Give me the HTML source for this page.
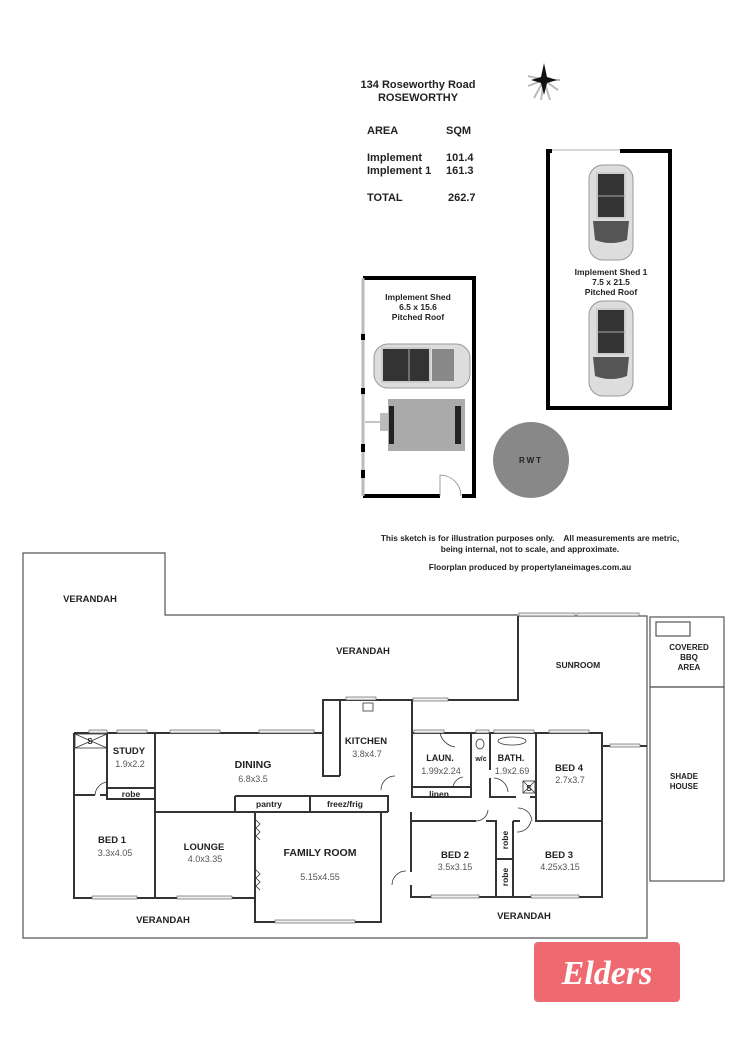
<!DOCTYPE html>
<html><head><meta charset="utf-8"><style>
html,body{margin:0;padding:0;background:#fff}
svg{display:block}
text{font-family:"Liberation Sans",Arial,sans-serif;font-weight:bold;fill:#222}
.d{font-weight:normal;fill:#555;font-size:9px}
</style></head><body>
<svg width="750" height="1061" viewBox="0 0 750 1061" xmlns="http://www.w3.org/2000/svg">
<!-- header -->
<text x="418" y="88" font-size="11" text-anchor="middle">134 Roseworthy Road</text>
<text x="418" y="101" font-size="11" text-anchor="middle">ROSEWORTHY</text>
<g transform="translate(544,80)">
 <g stroke="#bbb" stroke-width="2" fill="none">
  <line x1="0" y1="0" x2="-16" y2="-4"/><line x1="0" y1="0" x2="-16" y2="6"/><line x1="0" y1="0" x2="-10" y2="18"/>
  <line x1="0" y1="0" x2="-3" y2="20"/><line x1="0" y1="0" x2="6" y2="20"/><line x1="0" y1="0" x2="14" y2="10"/><line x1="0" y1="0" x2="16" y2="0"/>
 </g>
 <polygon points="0,-17 3,-3 13,0 3,3 0,15 -3,3 -13,0 -3,-3" fill="#111"/>
</g>
<text x="367" y="134" font-size="11">AREA</text><text x="446" y="134" font-size="11">SQM</text>
<text x="367" y="161" font-size="11">Implement</text><text x="446" y="161" font-size="11">101.4</text>
<text x="367" y="174" font-size="11">Implement 1</text><text x="446" y="174" font-size="11">161.3</text>
<text x="367" y="201" font-size="11">TOTAL</text><text x="448" y="201" font-size="11">262.7</text>

<!-- shed 1 -->
<rect x="548" y="151" width="122" height="257" fill="none" stroke="#000" stroke-width="4"/>
<line x1="552" y1="151" x2="620" y2="151" stroke="#fff" stroke-width="4"/>
<line x1="552" y1="150" x2="620" y2="150" stroke="#999" stroke-width="0.8"/>
<g id="carv">
 <rect x="589" y="165" width="44" height="95" rx="14" fill="#ddd" stroke="#999"/>
 <rect x="597" y="173" width="28" height="45" fill="#333" stroke="#ccc" stroke-width="2"/>
 <line x1="597" y1="196" x2="625" y2="196" stroke="#aaa"/>
 <path d="M593 221 L629 221 L627 240 Q611 246 595 240 Z" fill="#555"/>
</g>
<use href="#carv" transform="translate(0,136)"/>
<text x="611" y="275" font-size="8.5" text-anchor="middle">Implement Shed 1</text>
<text x="611" y="285" font-size="8.5" text-anchor="middle">7.5 x 21.5</text>
<text x="611" y="295" font-size="8.5" text-anchor="middle">Pitched Roof</text>

<!-- implement shed -->
<path d="M363 278 H474 V496 H462 M440 496 H363" fill="none" stroke="#000" stroke-width="4"/>
<line x1="363" y1="278" x2="363" y2="496" stroke="#bbb" stroke-width="3"/>
<g fill="#000"><rect x="361" y="334" width="4" height="6"/><rect x="361" y="388" width="4" height="6"/><rect x="361" y="444" width="4" height="8"/><rect x="361" y="470" width="4" height="8"/></g>
<path d="M440 496 V475 A21 21 0 0 1 461 496" fill="none" stroke="#888" stroke-width="0.8"/>
<text x="418" y="300" font-size="8.5" text-anchor="middle">Implement Shed</text>
<text x="418" y="310" font-size="8.5" text-anchor="middle">6.5 x 15.6</text>
<text x="418" y="320" font-size="8.5" text-anchor="middle">Pitched Roof</text>
<rect x="374" y="344" width="96" height="44" rx="14" fill="#ddd" stroke="#999"/>
<rect x="382" y="348" width="48" height="34" fill="#333" stroke="#ccc" stroke-width="2"/>
<line x1="409" y1="348" x2="409" y2="382" stroke="#aaa"/>
<rect x="432" y="349" width="22" height="32" fill="#888"/>
<rect x="388" y="399" width="77" height="52" fill="#aaa"/>
<rect x="389" y="406" width="5" height="38" fill="#222"/><rect x="455" y="406" width="6" height="38" fill="#222"/>
<rect x="380" y="413" width="8" height="18" fill="#bbb"/><line x1="365" y1="422" x2="380" y2="422" stroke="#888"/>

<circle cx="531" cy="460" r="38" fill="#888"/>
<text x="531" y="463" font-size="8" text-anchor="middle" letter-spacing="2">RWT</text>

<text x="530" y="541" font-size="8.3" text-anchor="middle" xml:space="preserve">This sketch is for illustration purposes only.    All measurements are metric,</text>
<text x="530" y="552" font-size="8.3" text-anchor="middle">being internal, not to scale, and approximate.</text>
<text x="530" y="570" font-size="8.3" text-anchor="middle">Floorplan produced by propertylaneimages.com.au</text>

<!-- house outline -->
<g fill="none" stroke="#555" stroke-width="1.2">
 <path d="M518 615 H165 V553 H23 V938 H647 V616 H518"/>
 <rect x="650" y="617" width="74" height="70"/>
 <rect x="650" y="687" width="74" height="194"/>
 <rect x="656" y="622" width="34" height="14"/>
</g>
<g fill="none" stroke="#333" stroke-width="2">
 <path d="M518 616 V700 H412"/>
 <path d="M647 746 H602"/>
 <path d="M74 733 H323 V700 H412 V733 H602 V897 H411 V885 M411 872 V812"/>
 <path d="M74 733 V898 H255 V922 H381 V812"/>
 <path d="M323 700 V776 H340 M340 700 V776"/>
 <path d="M107 733 V799 H155 M107 788 H155 M155 733 V898"/>
 <path d="M74 795 H95 M100 795 H107"/>
 <path d="M155 812 H388 M235 796 H388 V812 M235 796 V812 M310 796 V812"/>
 <path d="M255 812 V922"/>
 <path d="M412 733 V797 H471 V733 M412 787 H471"/>
 <path d="M490 733 V770 M490 778 V797 H516 M530 797 H536 V733"/>
 <path d="M536 797 V821 H602"/>
 <path d="M411 821 H476 M486 821 H496 V897 M513 821 V897 M513 821 H520 M496 859 H513"/>
 <path d="M412 733 V798"/>
</g>
<!-- windows -->
<g fill="#eee" stroke="#666" stroke-width="0.7">
 <rect x="89" y="730" width="18" height="3"/><rect x="117" y="730" width="30" height="3"/>
 <rect x="170" y="730" width="50" height="3"/><rect x="259" y="730" width="55" height="3"/>
 <rect x="346" y="697" width="30" height="3"/><rect x="414" y="730" width="30" height="3"/>
 <rect x="476" y="730" width="13" height="3"/><rect x="494" y="730" width="40" height="3"/>
 <rect x="549" y="730" width="40" height="3"/><rect x="519" y="613" width="56" height="3"/><rect x="577" y="613" width="62" height="3"/>
 <rect x="92" y="896" width="45" height="3"/><rect x="177" y="896" width="55" height="3"/>
 <rect x="275" y="920" width="80" height="3"/><rect x="431" y="895" width="48" height="3"/><rect x="531" y="895" width="48" height="3"/>
 <rect x="413" y="698" width="35" height="3"/><rect x="610" y="744" width="30" height="3"/>
</g>
<g fill="none" stroke="#333" stroke-width="0.8">
 <rect x="75" y="734" width="32" height="14"/><line x1="75" y1="734" x2="107" y2="748"/><line x1="107" y1="734" x2="75" y2="748"/>
 <rect x="523" y="781" width="12" height="12"/><line x1="523" y1="781" x2="535" y2="793"/><line x1="535" y1="781" x2="523" y2="793"/>
 <ellipse cx="512" cy="741" rx="14" ry="4"/><ellipse cx="480" cy="744" rx="4" ry="5"/>
 <rect x="363" y="703" width="10" height="8"/>
 <path d="M95 795 A14 14 0 0 1 107 782"/>
 <path d="M453 787 A12 12 0 0 1 463 777"/><path d="M440 733 A18 18 0 0 0 455 747"/>
 <path d="M508 792 A15 15 0 0 0 494 778"/>
 <path d="M476 821 A12 12 0 0 0 488 810"/><path d="M532 821 A14 14 0 0 0 518 808"/>
 <path d="M517 832 A14 14 0 0 0 531 821"/>
 <path d="M381 790 A14 14 0 0 1 395 776"/>
 <path d="M392 885 A14 14 0 0 1 406 871"/>
 <path d="M256 820 l4 4 -4 4 4 4 -4 4 4 4"/><path d="M256 870 l4 4 -4 4 4 4 -4 4 4 4"/>
</g>
<!-- labels -->
<g font-size="9.5">
 <text x="90" y="602" text-anchor="middle">VERANDAH</text>
 <text x="363" y="654" text-anchor="middle">VERANDAH</text>
 <text x="578" y="668" text-anchor="middle" font-size="8.5">SUNROOM</text>
 <text x="689" y="650" text-anchor="middle" font-size="8">COVERED</text>
 <text x="689" y="660" text-anchor="middle" font-size="8">BBQ</text>
 <text x="689" y="670" text-anchor="middle" font-size="8">AREA</text>
 <text x="684" y="779" text-anchor="middle" font-size="8">SHADE</text>
 <text x="684" y="789" text-anchor="middle" font-size="8">HOUSE</text>
 <text x="129" y="754" text-anchor="middle">STUDY</text>
 <text x="130" y="767" class="d" text-anchor="middle">1.9x2.2</text>
 <text x="131" y="797" text-anchor="middle" font-size="8.5">robe</text>
 <text x="253" y="768" text-anchor="middle" font-size="10.5">DINING</text>
 <text x="253" y="782" class="d" text-anchor="middle">6.8x3.5</text>
 <text x="366" y="744" text-anchor="middle">KITCHEN</text>
 <text x="367" y="757" class="d" text-anchor="middle">3.8x4.7</text>
 <text x="269" y="807" text-anchor="middle" font-size="8.5">pantry</text>
 <text x="345" y="807" text-anchor="middle" font-size="8.5">freez/frig</text>
 <text x="112" y="843" text-anchor="middle">BED 1</text>
 <text x="115" y="856" class="d" text-anchor="middle">3.3x4.05</text>
 <text x="204" y="850" text-anchor="middle">LOUNGE</text>
 <text x="205" y="862" class="d" text-anchor="middle">4.0x3.35</text>
 <text x="320" y="856" text-anchor="middle" font-size="10.5">FAMILY ROOM</text>
 <text x="320" y="880" class="d" text-anchor="middle">5.15x4.55</text>
 <text x="440" y="761" text-anchor="middle" font-size="9">LAUN.</text>
 <text x="441" y="774" class="d" text-anchor="middle" font-size="8.5">1.99x2.24</text>
 <text x="481" y="761" text-anchor="middle" font-size="7">w/c</text>
 <text x="511" y="761" text-anchor="middle" font-size="9">BATH.</text>
 <text x="512" y="774" class="d" text-anchor="middle" font-size="8.5">1.9x2.69</text>
 <text x="439" y="797" text-anchor="middle" font-size="8.5">linen</text>
 <text x="569" y="771" text-anchor="middle">BED 4</text>
 <text x="570" y="783" class="d" text-anchor="middle">2.7x3.7</text>
 <text x="455" y="858" text-anchor="middle">BED 2</text>
 <text x="455" y="870" class="d" text-anchor="middle">3.5x3.15</text>
 <text x="559" y="858" text-anchor="middle">BED 3</text>
 <text x="560" y="870" class="d" text-anchor="middle">4.25x3.15</text>
 <text x="508" y="840" text-anchor="middle" font-size="8.5" transform="rotate(-90 508 840)">robe</text>
 <text x="508" y="877" text-anchor="middle" font-size="8.5" transform="rotate(-90 508 877)">robe</text>
 <text x="163" y="923" text-anchor="middle">VERANDAH</text>
 <text x="524" y="919" text-anchor="middle">VERANDAH</text>
 <text x="90" y="744" text-anchor="middle" font-size="8">S</text>
 <text x="529" y="791" text-anchor="middle" font-size="8">S</text>
</g>
<!-- logo -->
<rect x="534" y="942" width="146" height="60" rx="4" fill="#ee6a70"/>
<text x="607" y="984" text-anchor="middle" font-size="34" font-style="italic" style="font-family:'Liberation Serif',serif;fill:#fff" font-weight="bold">Elders</text>
</svg>
</body></html>
